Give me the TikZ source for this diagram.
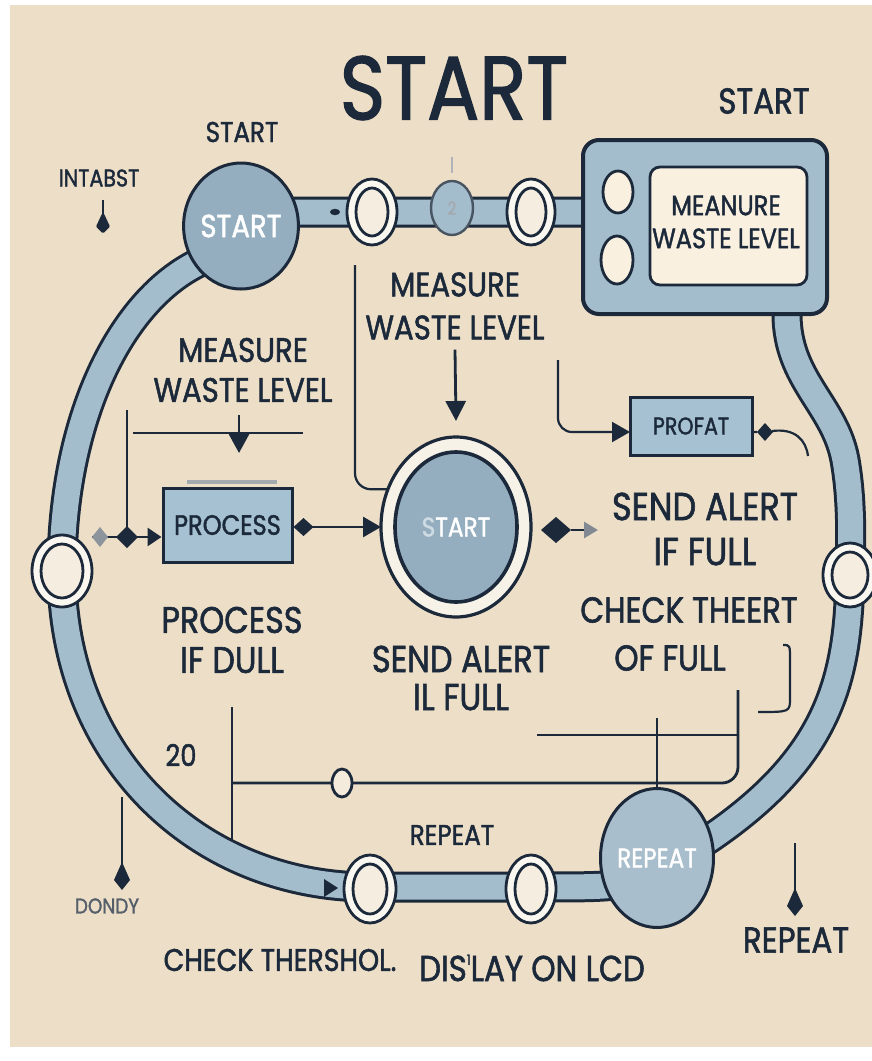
\documentclass[tikz,border=0pt]{standalone}
\usepackage{fontspec}
\setmainfont{Poppins}[FakeStretch=0.86,FakeBold=1.5]
\usetikzlibrary{arrows.meta,shapes.geometric}
\definecolor{bg}{RGB}{237,222,199}
\definecolor{ink}{RGB}{27,41,58}
\definecolor{pipe}{RGB}{163,189,204}
\definecolor{ball}{RGB}{148,174,191}
\definecolor{cream}{RGB}{249,240,224}
\definecolor{ringw}{RGB}{250,247,240}
\definecolor{boxblue}{RGB}{166,193,209}
\newcommand\fsz[2]{\fontsize{#1pt}{#2pt}\selectfont}
\begin{document}
\begin{tikzpicture}[x=0.5pt,y=-0.5pt,
  lbl/.style={text=ink, inner sep=0pt, outer sep=0pt, align=center},
  conn/.style={draw=ink, line width=1.4pt},
  thin/.style={draw=ink, line width=1.1pt},
  ring/.style 2 args={ellipse, draw=ink, line width=1.4pt, fill=ringw,
    minimum width=#1, minimum height=#2, inner sep=0pt, outer sep=0pt,
    path picture={\draw[ink, line width=1.4pt, fill=bg!55!white]
      (path picture bounding box.center) ellipse [x radius=#1/2-4.5pt, y radius=#2/2-4.5pt];}},
  ball/.style={ellipse, fill=ball, draw=ink, line width=1.5pt, inner sep=0pt, outer sep=0pt, text=white},
  dia/.style={diamond, fill=ink, inner sep=0pt, outer sep=0pt},
  kite/.style={-{Kite[length=14pt,width=8pt,inset=9pt]}},
  drop/.style={-{Kite[length=11pt,width=7pt,inset=7.5pt,round]}}
]
% background
\fill[white] (0,0) rectangle (872,1061);
\fill[bg] (10,5) rectangle (872,1047);
\useasboundingbox (0,0) rectangle (872,1061);

% main pipe loop
\draw[ink, line width=1.5pt, double=pipe, double distance=12.5pt, line join=round]
  (241,212) -- (700,212) .. controls (787,212) and (787,250) .. (787,314)
  .. controls (787,380) and (835,405) .. (845,460)
  .. controls (852,500) and (851,540) .. (850,575)
  .. controls (848,680) and (830,760) .. (700,845) -- (657,872)
  .. controls (620,887) .. (531,887) -- (370,887)
  .. controls (200,887) and (62,760) .. (62,571)
  .. controls (62,420) and (120,300) .. (200,262) -- cycle;

% coupling bump on top pipe
\draw[ink!35, line width=0.8pt] (452,157) -- (452,173);
\node[ellipse, fill=pipe, draw=ink!80, line width=1.2pt, minimum width=21pt, minimum height=27pt, inner sep=0pt] (bump) at (452,208) {\fsz{9}{9}\color{ink!40}2};
\fill[ink] (335,212) ellipse [x radius=2.5pt, y radius=1.6pt];
\fill[ink] (324,879) -- (338,888) -- (324,897) -- cycle;

% START circle
\node[ball, minimum width=56pt, minimum height=63pt, font=\fsz{16}{16}] (s1) at (241,226) {START};

% rings
\node[ring={25pt}{33pt}] (r1) at (372,212) {};
\node[ring={24pt}{33pt}] (r2) at (531,212) {};
\node[ring={30pt}{36pt}] (r3) at (62,571) {};
\node[ring={27pt}{32pt}] (r4) at (850,575) {};
\node[ring={26pt}{34pt}] (r5) at (370,889) {};
\node[ring={25pt}{34pt}] (r6) at (531,889) {};

% monitor
\node[rectangle, rounded corners=8pt, fill=pipe, draw=ink, line width=2pt, minimum width=122pt, minimum height=87pt] (mon) at (705,227) {};
\node[ellipse, fill=cream, draw=ink, line width=1.4pt, minimum width=15pt, minimum height=21pt, inner sep=0pt] (b1) at (618,192) {};
\node[ellipse, fill=cream, draw=ink, line width=1.4pt, minimum width=16pt, minimum height=24pt, inner sep=0pt] (b2) at (617,260) {};
\node[rectangle, rounded corners=5pt, fill=cream, draw=ink, line width=1.4pt, minimum width=78.5pt, minimum height=59pt] (scr) at (728.5,226) {};
\node[lbl, font=\fsz{14}{16.5}] (scrt) at (726,222) {MEANURE\\WASTE LEVEL};

% REPEAT circle
\node[ball, fill=ball!80!white, minimum width=56.5pt, minimum height=69.5pt, font=\fsz{13.5}{13.5}] (rep) at (657,858) {REPEAT};

% centre circle
\node[ellipse, fill=ringw!80!bg, draw=ink, line width=1.6pt, minimum width=75pt, minimum height=90pt, inner sep=0pt, outer sep=0pt] (cc) at (456,527) {};
\node[ball, line width=1.8pt, minimum width=61pt, minimum height=75pt, font=\fsz{13.5}{13.5}] (cci) at (456,527) {{\color{white!55!ball}S}TART};

% boxes
\node[rectangle, fill=boxblue, draw=ink, line width=1.5pt, minimum width=64.5pt, minimum height=37pt, font=\fsz{14}{14}, text=ink] (proc) at (227.5,525) {PROCESS};
\node[rectangle, fill=boxblue, draw=ink, line width=1.5pt, minimum width=61pt, minimum height=29pt, font=\fsz{12}{12}, text=ink] (prof) at (691,426) {PROFAT};
\draw[ink!40, line width=2pt] (187,482) -- (277,482);

% labels
\node[lbl, font=\fsz{45}{45}] (title) at (454,88) {START};
\node[lbl, font=\fsz{18}{18}] (st2) at (764,101) {START};
\node[lbl, font=\fsz{14.3}{14.3}] (st1) at (242,132) {START};
\node[lbl, font=\fsz{12}{12}] (intabst) at (99,178) {INTABST};
\node[lbl, font=\fsz{17}{20}] (mwl) at (243,370) {MEASURE\\WASTE LEVEL};
\node[lbl, font=\fsz{17}{21.5}] (mwt) at (455,306) {MEASURE\\WASTE LEVEL};
\node[lbl, font=\fsz{19.5}{22.5}] (sar) at (705,529) {SEND ALERT\\IF FULL};
\node[lbl, font=\fsz{18}{18}] (cht1) at (689,610) {CHECK THEERT};
\node[lbl, font=\fsz{18}{18}] (cht2) at (670,658) {OF FULL};
\node[lbl, font=\fsz{18.5}{20}] (pid) at (232,640) {PROCESS\\IF DULL};
\node[lbl, font=\fsz{18.7}{19}] (sai) at (461,678) {SEND ALERT\\IL FULL};
\node[lbl, font=\fsz{15}{15}] (n20) at (181,755) {20};
\node[lbl, font=\fsz{10.7}{10.7}, text=ink!75] (dondy) at (107,906) {DONDY};
\node[lbl, font=\fsz{14.3}{14.3}] (repl) at (452,835) {REPEAT};
\node[lbl, font=\fsz{18}{18}] (repr) at (796,940) {REPEAT};
\node[lbl, font=\fsz{15.6}{15.6}] (cth) at (280,960) {CHECK THERSHOL.};
\node[lbl, font=\fsz{18}{18}] (dis) at (532,968) {DIS\raisebox{0.45em}{\fsz{7}{7}1}LAY ON LCD};

% connectors: INTABST drop
\coordinate (d1) at (103,200);
\coordinate (d2) at (103,233);
\draw[conn, drop] (d1) -- (d2);

% left measure group
\coordinate (h1) at (133,433);
\coordinate (h2) at (303,433);
\draw[conn] (h1) -- (h2);
\coordinate (v1) at (239,415);
\coordinate (v2) at (239,453);
\draw[conn, -{Triangle[length=9.5pt,width=10pt]}] (v1) -- (v2);
\coordinate (lv1) at (127,410);
\coordinate (ar0) at (92,537);
\draw[conn, -{Triangle[length=7pt,width=9pt]}] (ar0) -- (proc.west |- ar0);
\draw[conn] (lv1) -- (lv1 |- ar0);
\node[dia, fill=ink!50, minimum width=8pt, minimum height=10pt] (dm1) at (100,537) {};
\node[dia, minimum width=11pt, minimum height=11pt] (dm2) at (127,537) {};

% process -> centre circle
\draw[conn, {Diamond[length=10pt,width=9pt]}-{Triangle[length=9pt,width=10pt]}] (proc.east |- cc.west) -- (cc.west);

% line from above into centre circle
\coordinate (vl1) at (355,265);
\draw[thin, rounded corners=8pt] (vl1) -- (vl1 |- cc.151) -- (cc.151);

% top measure arrow
\draw[conn, -{Triangle[length=10pt,width=10pt]}] ([yshift=-5pt]mwt.south) -- ([yshift=8pt]cc.north);

% to PROFAT
\coordinate (pf1) at (558,360);
\coordinate (pf2) at (630,432);
\draw[thin, rounded corners=7pt, -{Triangle[length=9pt,width=10pt]}] (pf1) |- (pf2);
\coordinate (pfe) at (808,456);
\node[dia, minimum width=8pt, minimum height=9pt] (dm4) at (765,432) {};
\draw[thin] (prof.east |- dm4) -- (dm4) .. controls (795,428) and (806,440) .. (pfe);

% centre circle -> send alert
\node[dia, minimum width=15pt, minimum height=13pt] (dm3) at (556,530) {};
\coordinate (sa2) at (598,530);
\draw[conn, -{Triangle[length=7pt,width=8pt,color=ink!55]}] (dm3.east) -- (sa2);

% bracket right of OF FULL
\coordinate (bk1) at (783,645);
\coordinate (bk2) at (758,712);
\draw[thin] (bk1) .. controls (790,645) .. (790,660) -- (790,698) .. controls (790,712) .. (bk2);

% lower connectors
\coordinate (lv3) at (232,707);
\coordinate (lv4) at (232,841);
\draw[conn] (lv3) -- (lv4);
\coordinate (hj) at (232,783);
\coordinate (vr1) at (738,690);
\draw[conn, rounded corners=8pt] (hj) -| (vr1);
\node[ellipse, draw=ink, line width=1.4pt, fill=bg!60!white, minimum width=10pt, minimum height=14pt, inner sep=0pt] (sr) at (342,783) {};
\coordinate (hl1) at (537,735);
\draw[conn] (hl1) -- (hl1 -| vr1);
\coordinate (vt) at (657,718);
\draw[conn] (vt) -- (rep.north);

% down arrows
\coordinate (la1) at (122,797);
\coordinate (la2) at (122,890);
\draw[conn, kite] (la1) -- (la2);
\coordinate (ra1) at (795,843);
\coordinate (ra2) at (795,916);
\draw[conn, kite] (ra1) -- (ra2);
\end{tikzpicture}
\end{document}
